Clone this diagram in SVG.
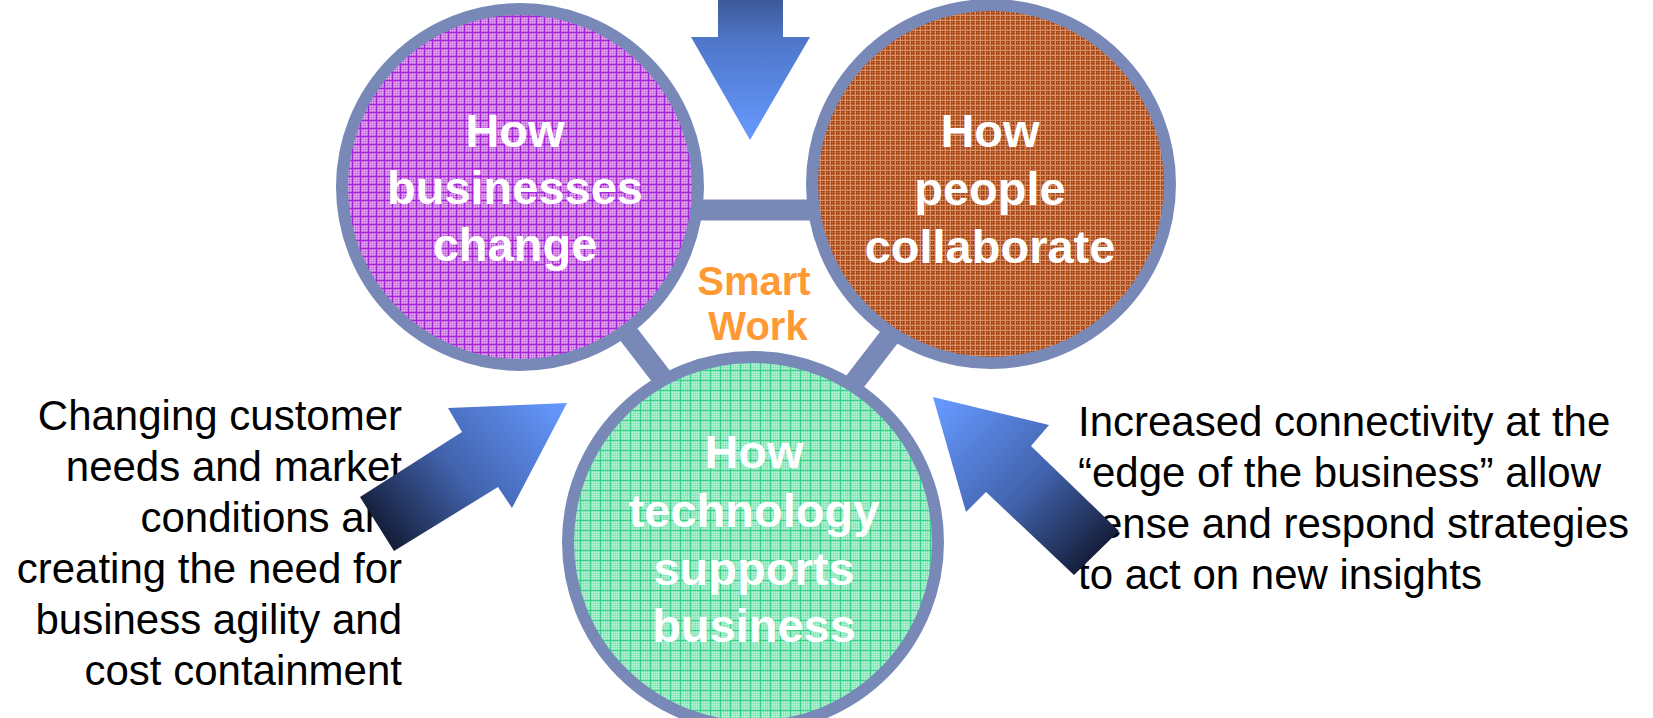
<svg xmlns="http://www.w3.org/2000/svg" width="1653" height="718" viewBox="0 0 1653 718">
  <style>
    .ring { stroke: #7889b8; stroke-width: 12; }
    .node-label { font-family: "Liberation Sans", Arial, sans-serif; font-weight: bold; font-size: 47px; fill: #ffffff; text-anchor: middle; }
    .center-label { font-family: "Liberation Sans", Arial, sans-serif; font-weight: bold; font-size: 40px; fill: #ff9933; text-anchor: middle; }
    .note { font-family: "Liberation Sans", Arial, sans-serif; font-size: 42px; fill: #000000; }
    .bar { fill: none; stroke: #7889b8; stroke-width: 21; stroke-linejoin: round; }
  </style>
  <defs>
    <pattern id="chkPurple" width="2" height="2" patternUnits="userSpaceOnUse">
      <rect width="2" height="2" fill="#d682ec"/>
      <rect width="1" height="1" fill="#e8b2f4"/>
      <rect x="1" y="1" width="1" height="1" fill="#c25ee2"/>
    </pattern>
    <pattern id="pPurple" width="8" height="8" patternUnits="userSpaceOnUse">
      <rect width="8" height="8" fill="url(#chkPurple)"/>
      <rect width="1" height="8" fill="#a424d8"/>
      <rect width="8" height="1" fill="#a424d8"/>
    </pattern>
    <pattern id="chkBrown" width="2" height="2" patternUnits="userSpaceOnUse">
      <rect width="2" height="2" fill="#b0501c"/>
      <rect width="1" height="1" fill="#c87446"/>
      <rect x="1" y="1" width="1" height="1" fill="#9c4010"/>
    </pattern>
    <pattern id="pBrown" width="5" height="5" patternUnits="userSpaceOnUse">
      <rect width="5" height="5" fill="url(#chkBrown)"/>
      <rect width="1" height="5" fill="#d8906a"/>
      <rect width="5" height="1" fill="#d8906a"/>
    </pattern>
    <pattern id="chkGreen" width="2" height="2" patternUnits="userSpaceOnUse">
      <rect width="2" height="2" fill="#96ecc4"/>
      <rect width="1" height="1" fill="#b8f4d6"/>
      <rect x="1" y="1" width="1" height="1" fill="#7ee2b0"/>
    </pattern>
    <pattern id="pGreen" width="10" height="10" patternUnits="userSpaceOnUse">
      <rect width="10" height="10" fill="url(#chkGreen)"/>
      <rect width="1" height="10" fill="#3ad28a"/>
      <rect width="10" height="1" fill="#3ad28a"/>
    </pattern>
    <linearGradient id="gTop" gradientUnits="userSpaceOnUse" x1="0" y1="0" x2="0" y2="140">
      <stop offset="0" stop-color="#3d5a98"/>
      <stop offset="0.3" stop-color="#4f77ca"/>
      <stop offset="1" stop-color="#6699ff"/>
    </linearGradient>
    <linearGradient id="gLeft" gradientUnits="userSpaceOnUse" x1="385" y1="545" x2="560" y2="400">
      <stop offset="0" stop-color="#121a33"/>
      <stop offset="0.45" stop-color="#4263ad"/>
      <stop offset="1" stop-color="#6699ff"/>
    </linearGradient>
    <linearGradient id="gRight" gradientUnits="userSpaceOnUse" x1="1100" y1="560" x2="940" y2="400">
      <stop offset="0" stop-color="#121a33"/>
      <stop offset="0.45" stop-color="#4263ad"/>
      <stop offset="1" stop-color="#6699ff"/>
    </linearGradient>
  </defs>

  <rect width="1653" height="718" fill="#ffffff"/>

  <g id="connectors">
    <polygon class="bar" points="533,210 987,210 760,505"/>
  </g>

  <g id="node-businesses">
    <circle class="ring" cx="520" cy="187" r="178" fill="url(#pPurple)"/>
    <text class="node-label" x="515" y="147">How</text>
    <text class="node-label" x="515" y="204">businesses</text>
    <text class="node-label" x="515" y="261">change</text>
  </g>

  <g id="node-people">
    <circle class="ring" cx="991" cy="184" r="179" fill="url(#pBrown)"/>
    <text class="node-label" x="990" y="147">How</text>
    <text class="node-label" x="990" y="205">people</text>
    <text class="node-label" x="990" y="263">collaborate</text>
  </g>

  <g id="node-technology">
    <circle class="ring" cx="753" cy="542" r="185" fill="url(#pGreen)"/>
    <text class="node-label" x="754" y="468">How</text>
    <text class="node-label" x="754" y="527">technology</text>
    <text class="node-label" x="754" y="585">supports</text>
    <text class="node-label" x="754" y="642">business</text>
  </g>

  <g id="node-smartwork">
    <text class="center-label" x="754" y="295">Smart</text>
    <text class="center-label" x="758" y="340">Work</text>
  </g>

  <g id="note-left">
    <text class="note" text-anchor="end" x="402" y="430">Changing customer</text>
    <text class="note" text-anchor="end" x="402" y="481">needs and market</text>
    <text class="note" text-anchor="end" x="402" y="532">conditions are</text>
    <text class="note" text-anchor="end" x="402" y="583">creating the need for</text>
    <text class="note" text-anchor="end" x="402" y="634">business agility and</text>
    <text class="note" text-anchor="end" x="402" y="685">cost containment</text>
  </g>

  <g id="note-right">
    <text class="note" x="1078" y="436">Increased connectivity at the</text>
    <text class="note" x="1078" y="487">“edge of the business” allow</text>
    <text class="note" x="1078" y="538">sense and respond strategies</text>
    <text class="note" x="1078" y="589">to act on new insights</text>
  </g>

  <g id="arrow-top">
    <polygon points="718,0 783,0 783,37 810,37 750,140 691,37 718,37" fill="url(#gTop)"/>
  </g>

  <g id="arrow-left">
    <polygon points="360,497 462,432 448,408 567,403 512,508 498,487 394,551" fill="url(#gLeft)"/>
  </g>

  <g id="arrow-right">
    <polygon points="1119,531 1031,446 1049,425 933,397 966,512 986,492 1074,575" fill="url(#gRight)"/>
  </g>
</svg>
